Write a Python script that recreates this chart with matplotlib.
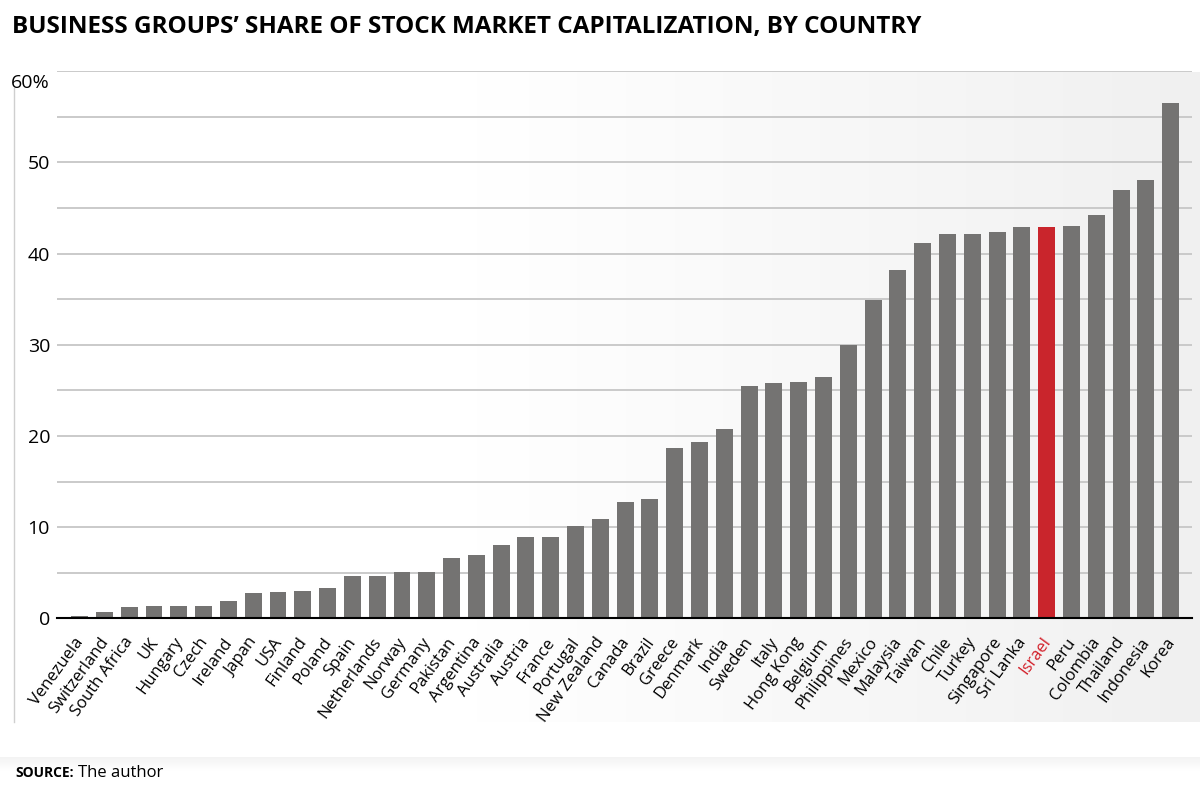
import numpy as np
import matplotlib
matplotlib.use("Agg")
import matplotlib.pyplot as plt
from matplotlib.transforms import ScaledTranslation

countries = ["Venezuela", "Switzerland", "South Africa", "UK", "Hungary", "Czech", "Ireland",
             "Japan", "USA", "Finland", "Poland", "Spain", "Netherlands", "Norway", "Germany",
             "Pakistan", "Argentina", "Australia", "Austria", "France", "Portugal", "New Zealand",
             "Canada", "Brazil", "Greece", "Denmark", "India", "Sweden", "Italy", "Hong Kong",
             "Belgium", "Philippines", "Mexico", "Malaysia", "Taiwan", "Chile", "Turkey",
             "Singapore", "Sri Lanka", "Israel", "Peru", "Colombia", "Thailand", "Indonesia", "Korea"]
values = [0.3, 0.7, 1.2, 1.4, 1.4, 1.4, 1.9,
          2.8, 2.9, 3.0, 3.3, 4.6, 4.6, 5.1, 5.1,
          6.6, 6.9, 8.0, 8.9, 8.9, 10.1, 10.9,
          12.8, 13.1, 18.7, 19.3, 20.8, 25.5, 25.8, 25.9,
          26.5, 30.0, 34.9, 38.2, 41.2, 42.1, 42.1,
          42.4, 42.9, 42.9, 43.0, 44.2, 47.0, 48.1, 56.5]
highlight = "Israel"
y_ticks = [0, 10, 20, 30, 40, 50, 60]
y_tick_labels = ["0", "10", "20", "30", "40", "50", "60%"]
grid_levels = list(range(5, 65, 5))

title = "BUSINESS GROUPS\u2019 SHARE OF STOCK MARKET CAPITALIZATION, BY COUNTRY"

plt.rcParams["font.family"] = ["Open Sans", "DejaVu Sans"]

W, H = 1200, 788
fig = plt.figure(figsize=(12, 7.88), dpi=100)

# background layer in pixel coordinates
bg = fig.add_axes([0, 0, 1, 1], zorder=0)
bg.set_xlim(0, W)
bg.set_ylim(H, 0)
bg.axis("off")
xs = np.linspace(13, 1200, 400)
t = np.clip((xs - 480) / (1200 - 480), 0, 1)
v = 1 - t * (1 - 0.942)
img = np.stack([v, v, v], axis=-1)[None, :, :]
bg.imshow(img, extent=(13, 1200, 722, 72), aspect="auto", interpolation="bilinear")
bg.plot([13.5, 13.5], [88, 722], color="#cfcfcf", lw=1.0)
# faint shadow line above the source
sh = np.zeros((20, 2, 4))
sh[:, :, 3] = np.linspace(0.05, 0.0, 20)[:, None]
bg.imshow(sh, extent=(0, 1200, 772, 757), aspect="auto", interpolation="bilinear")

ax = fig.add_axes([57 / W, 1 - 618.3 / H, (1192 - 57) / W, (618.3 - 71.3) / H], zorder=1)
ax.patch.set_alpha(0)
x = np.arange(len(countries))
colors = ["#c9252c" if c == highlight else "#747372" for c in countries]
ax.bar(x, values, width=0.68, color=colors, linewidth=0, zorder=3)
ax.set_xlim(-0.91, len(countries) - 1 + 0.86)
ax.set_ylim(0, 60)
for g in grid_levels:
    ax.axhline(g, color="#c6c6c6", lw=1.3, zorder=1)
ax.axhline(0, color="black", lw=1.5, zorder=4, clip_on=False)
for s in ax.spines.values():
    s.set_visible(False)

ax.set_yticks(y_ticks, y_tick_labels)
ax.tick_params(axis="y", length=0, pad=5, labelsize=14)
for lab in ax.get_yticklabels():
    if lab.get_text().endswith("%"):
        lab.set_transform(lab.get_transform() + ScaledTranslation(0, -0.1, fig.dpi_scale_trans))

ax.set_xticks(x, countries, rotation=54, ha="right", va="center", rotation_mode="anchor",
              fontsize=12, fontweight=500)
ax.tick_params(axis="x", length=0, pad=15)
for lab in ax.get_xticklabels():
    lab.set_transform(lab.get_transform() + ScaledTranslation(0.01, 0, fig.dpi_scale_trans))
    if lab.get_text() == highlight:
        lab.set_color("#d3202a")

fig.text(12 / W, 1 - 32.5 / H, title, fontsize=17.5, fontweight="bold", va="baseline", ha="left")
fig.text(15 / W, 1 - 777 / H, "SOURCE:", fontsize=10, fontweight="bold", va="baseline", ha="left")
fig.text(78 / W, 1 - 777 / H, "The author", fontsize=12, va="baseline", ha="left")

fig.savefig("out.png", dpi=100)
